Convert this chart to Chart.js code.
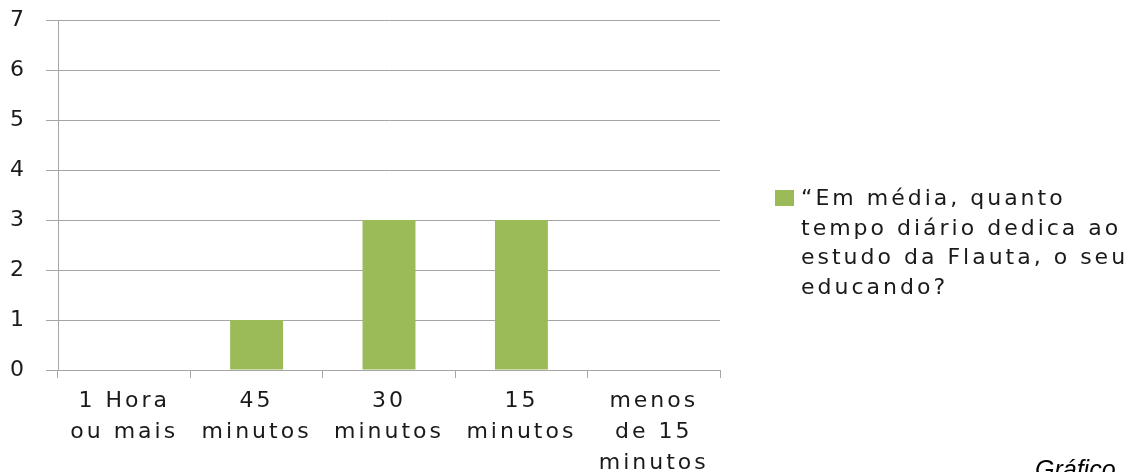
<!DOCTYPE html>
<html>
<head>
<meta charset="utf-8">
<script src="https://cdn.jsdelivr.net/npm/chart.js@4"></script>
<style>
  body { margin: 0; background: #fff; }
  canvas { display: block; }
</style>
</head>
<body>
<canvas id="myChart" width="1126" height="472"></canvas>
<script>
const categories = [['1 Hora', 'ou mais'], ['45', 'minutos'], ['30', 'minutos'], ['15', 'minutos'], ['menos', 'de 15', 'minutos']];
const values = [0, 1, 3, 3, 0];
const yTicks = [0, 1, 2, 3, 4, 5, 6, 7];
const seriesLabel = ['\u201cEm média, quanto', 'tempo diário dedica ao', 'estudo da Flauta, o seu', 'educando?'];
const captionText = 'Gráfico';

const green = '#9bbb59';
const gridGray = '#a6a6a6';
const textColor = '#1a1a1a';
const font = 'DejaVu Sans';
const spacing = '3px';

// the original text is drawn with wide letter spacing
const wideText = {
  id: 'wideText',
  beforeLayout(chart) { chart.ctx.letterSpacing = spacing; },
  beforeDraw(chart) { chart.ctx.letterSpacing = spacing; }
};

// legend on the right, drawn on the canvas (text wraps over several lines)
const sideLegend = {
  id: 'sideLegend',
  afterDraw(chart) {
    const ctx = chart.ctx;
    ctx.save();
    ctx.fillStyle = green;
    ctx.fillRect(775, 190, 19, 16);
    ctx.fillStyle = textColor;
    ctx.font = '22px "' + font + '"';
    ctx.letterSpacing = spacing;
    ctx.textBaseline = 'alphabetic';
    ctx.textAlign = 'left';
    const lines = chart.data.datasets[0].label;
    lines.forEach((line, i) => {
      ctx.fillText(line, 801, 205 + i * 29.6);
    });
    ctx.letterSpacing = '0px';
    ctx.font = 'italic 25px "Liberation Sans"';
    ctx.fillStyle = '#000';
    ctx.fillText(captionText, 1035, 478);
    ctx.restore();
  }
};

let chart1 = document.getElementById('myChart').getContext('2d');
let config1 = {
  type: 'bar',
  data: {
    labels: categories,
    datasets: [{
      label: seriesLabel,
      backgroundColor: green,
      borderWidth: 0,
      data: values,
      categoryPercentage: 1,
      barPercentage: 0.4
    }]
  },
  options: {
    responsive: false,
    animation: false,
    layout: { padding: { left: 10, top: 20, right: 406, bottom: 0 } },
    plugins: {
      legend: { display: false },
      tooltip: { enabled: false }
    },
    scales: {
      x: {
        offset: true,
        border: { color: gridGray, width: 1 },
        grid: {
          offset: true,
          drawOnChartArea: true,
          color: c => (c.index === categories.length ? gridGray : 'rgba(0,0,0,0)'),
          tickColor: gridGray,
          tickLength: 8
        },
        ticks: {
          color: textColor,
          font: { family: font, size: 22, lineHeight: 1.4 },
          padding: 8,
          maxRotation: 0,
          autoSkip: false
        },
        afterFit: s => { s.height = 102; }
      },
      y: {
        min: 0,
        max: 7,
        border: { color: gridGray, width: 1 },
        grid: { color: gridGray, tickColor: gridGray, tickLength: 12 },
        afterBuildTicks: s => { s.ticks = yTicks.map(v => ({ value: v })); },
        ticks: {
          color: textColor,
          crossAlign: 'far',
          font: { family: font, size: 22 }
        },
        afterFit: s => { s.width = 48; }
      }
    }
  },
  plugins: [wideText, sideLegend]
};
let chartTime = new Chart(chart1, config1);
</script>
</body>
</html>
